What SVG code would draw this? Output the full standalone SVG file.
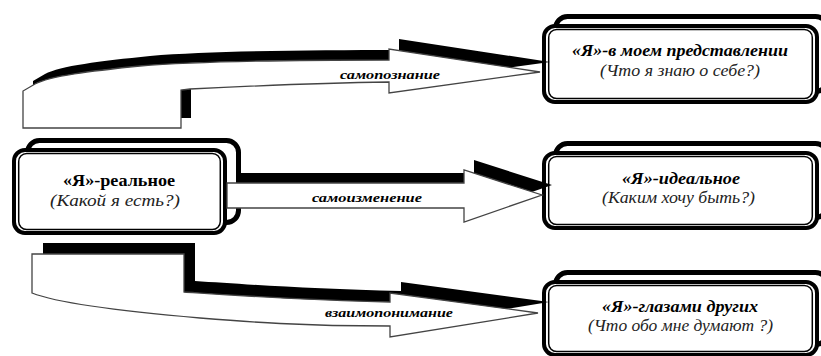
<svg xmlns="http://www.w3.org/2000/svg" width="821" height="356" viewBox="0 0 821 356">
<style>
.back{fill:#fff;stroke:#000;stroke-width:5}
.fo{fill:#fff;stroke:#000;stroke-width:4}
.fi{fill:none;stroke:#000;stroke-width:1.5}
.sh{fill:#000;stroke:none}
.wa{fill:#fff;stroke:#444;stroke-width:1.3;stroke-linejoin:miter}
text{font-family:"Liberation Serif","Times New Roman",serif}
.t1{font-size:16px;font-weight:bold;font-style:italic;fill:#000}
.t0{font-size:16px;font-weight:bold;fill:#000}
.t2{font-size:16px;font-style:italic;fill:#222}
.lb{font-size:13px;font-weight:bold;font-style:italic;fill:#000}
</style>
<g id="node-real">
<rect class="back" x="27.5" y="140.5" width="211" height="82" rx="12"/>
<rect class="fo" x="14" y="150" width="211" height="83" rx="11"/>
<rect class="fi" x="18.7" y="153.5" width="201.6" height="76" rx="8"/>
<text class="t0" x="63" y="186" textLength="112" lengthAdjust="spacingAndGlyphs">«Я»-реальное</text>
<text class="t2" x="50" y="206" textLength="130" lengthAdjust="spacingAndGlyphs">(Какой я есть?)</text>
</g>
<g id="node-self">
<rect class="back" x="555.5" y="16.5" width="272" height="75" rx="12"/>
<rect class="fo" x="544" y="26" width="273" height="76" rx="11"/>
<rect class="fi" x="548.7" y="29.5" width="263.6" height="69" rx="8"/>
<text class="t1" x="572" y="56" textLength="216" lengthAdjust="spacingAndGlyphs">«Я»-в моем представлении</text>
<text class="t2" x="600" y="76" textLength="160" lengthAdjust="spacingAndGlyphs">(Что я знаю о себе?)</text>
</g>
<g id="node-ideal">
<rect class="back" x="555.5" y="143.5" width="272" height="74" rx="12"/>
<rect class="fo" x="544" y="153" width="273" height="75" rx="11"/>
<rect class="fi" x="548.7" y="156.5" width="263.6" height="68" rx="8"/>
<text class="t1" x="622" y="184" textLength="118" lengthAdjust="spacingAndGlyphs">«Я»-идеальное</text>
<text class="t2" x="602" y="203" textLength="153" lengthAdjust="spacingAndGlyphs">(Каким хочу быть?)</text>
</g>
<g id="node-others">
<rect class="back" x="555.5" y="272.5" width="272" height="72" rx="12"/>
<rect class="fo" x="544" y="282" width="273" height="73" rx="11"/>
<rect class="fi" x="548.7" y="285.5" width="263.6" height="66" rx="8"/>
<text class="t1" x="602" y="312" textLength="156" lengthAdjust="spacingAndGlyphs">«Я»-глазами других</text>
<text class="t2" x="588" y="331" textLength="185" lengthAdjust="spacingAndGlyphs">(Что обо мне думают ?)</text>
</g>
<g id="connectors">
<g id="arrow-samopoznanie">
<path class="sh" transform="translate(10,-10)" d="M23,128 L181,128 L181,90 L190,89 C250,86 320,83 389,82 L389,93 L540,72 L389,49 L389,60 C300,60 200,61 140,66 C90,71 50,76 35,84 L23,91 Z"/>
<path class="wa" d="M23,128 L181,128 L181,90 L190,89 C250,86 320,83 389,82 L389,93 L540,72 L389,49 L389,60 C300,60 200,61 140,66 C90,71 50,76 35,84 L23,91 Z"/>
<text class="lb" x="340" y="79" textLength="100" lengthAdjust="spacingAndGlyphs">самопознание</text>
</g>
<g id="arrow-samoizmenenie">
<path class="sh" transform="translate(10,-10)" d="M227,183 L464,183 L464,170 L542,195 L464,222 L464,208 L227,208 Z"/>
<path class="wa" d="M227,183 L464,183 L464,170 L542,195 L464,222 L464,208 L227,208 Z"/>
<text class="lb" x="312" y="202" textLength="110" lengthAdjust="spacingAndGlyphs">самоизменение</text>
</g>
<g id="arrow-vzaimoponimanie">
<path class="sh" transform="translate(11,-11)" d="M32,254 L184,254 L184,292 C230,295 300,300 390,302 L390,293 L538,313 L390,337 L390,326 C300,326 250,322 200,318 C130,312 60,304 32,293 Z"/>
<path class="wa" d="M32,254 L184,254 L184,292 C230,295 300,300 390,302 L390,293 L538,313 L390,337 L390,326 C300,326 250,322 200,318 C130,312 60,304 32,293 Z"/>
<text class="lb" x="325" y="317" textLength="128" lengthAdjust="spacingAndGlyphs">взаимопонимание</text>
</g>
</g>
</svg>
